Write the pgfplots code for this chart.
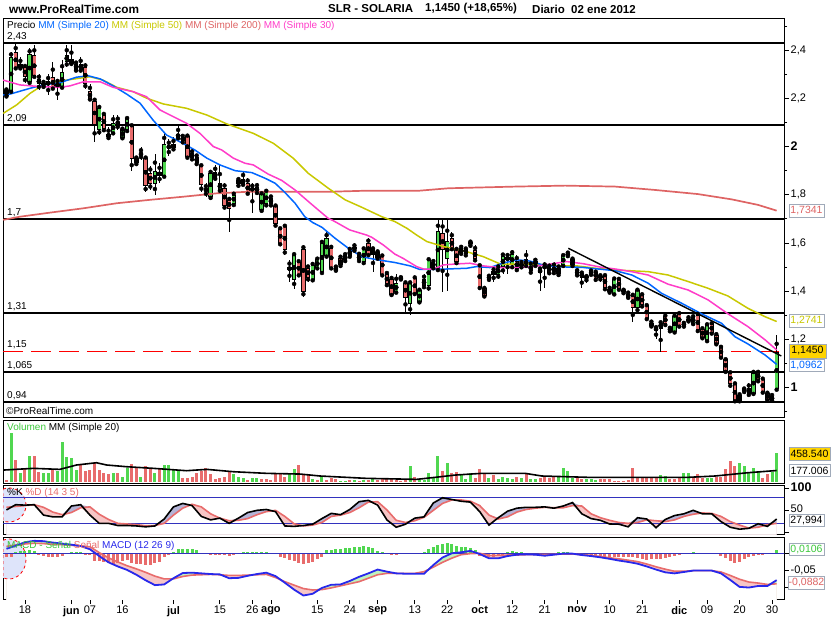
\documentclass[border=0pt]{standalone}
\usepackage{fontspec}
\setmainfont{Liberation Sans}
\usepackage{pgfplots}
\usepackage{pgfplotstable}
\pgfplotsset{compat=1.18}

\definecolor{cgreen}{RGB}{80,215,80}
\definecolor{cred}{RGB}{232,108,108}
\definecolor{mmblue}{RGB}{0,102,255}
\definecolor{mmyel}{RGB}{200,200,0}
\definecolor{mmsal}{RGB}{222,100,100}
\definecolor{mmpink}{RGB}{255,60,200}
\definecolor{stblue}{RGB}{50,50,190}
\definecolor{mablue}{RGB}{40,40,235}
\definecolor{fillpur}{RGB}{180,180,215}
\definecolor{fillpink}{RGB}{247,198,198}
\definecolor{fillgrn}{RGB}{190,242,190}
\definecolor{boxgrey}{RGB}{160,170,185}
\definecolor{gold}{RGB}{255,212,0}
\definecolor{txtgreen}{RGB}{60,200,60}
\definecolor{ellfill}{RGB}{222,228,250}
\definecolor{resred}{RGB}{255,0,0}

\pgfplotstableread{
i o h l c
-4 2.231 2.243 2.202 2.214
-3 2.232 2.394 2.223 2.371
-2 2.391 2.426 2.320 2.329
-1 2.329 2.370 2.320 2.342
0 2.329 2.340 2.263 2.290
1 2.269 2.408 2.260 2.383
2 2.377 2.422 2.285 2.294
3 2.279 2.300 2.235 2.260
4 2.262 2.275 2.240 2.256
5 2.256 2.300 2.213 2.269
6 2.287 2.352 2.235 2.246
7 2.246 2.280 2.193 2.265
8 2.249 2.360 2.240 2.307
9 2.352 2.420 2.330 2.380
10 2.360 2.420 2.340 2.346
11 2.321 2.355 2.310 2.342
12 2.342 2.370 2.310 2.321
13 2.329 2.345 2.240 2.263
14 2.227 2.260 2.190 2.201
15 2.189 2.200 2.020 2.090
16 2.069 2.170 2.050 2.159
17 2.131 2.140 2.060 2.076
18 2.052 2.080 2.030 2.041
19 2.060 2.130 2.050 2.097
20 2.102 2.130 2.070 2.094
21 2.039 2.080 2.030 2.069
22 2.069 2.120 2.060 2.117
23 2.087 2.090 1.897 1.949
24 1.935 1.960 1.920 1.949
25 1.970 2.000 1.945 1.968
26 1.949 1.960 1.810 1.838
27 1.890 1.920 1.820 1.848
28 1.848 1.970 1.800 1.897
29 1.894 1.930 1.850 1.880
30 1.880 2.062 1.870 2.010
31 1.995 2.030 1.960 2.002
32 2.007 2.040 1.980 1.997
33 2.052 2.086 2.030 2.039
34 2.039 2.050 2.010 2.025
35 2.041 2.050 1.950 1.958
36 1.970 1.990 1.940 1.954
37 1.956 1.970 1.920 1.935
38 1.920 1.925 1.810 1.841
39 1.822 1.850 1.790 1.818
40 1.794 1.900 1.780 1.890
41 1.892 1.924 1.860 1.873
42 1.823 1.924 1.810 1.848
43 1.827 1.850 1.740 1.754
44 1.776 1.790 1.647 1.744
45 1.765 1.810 1.750 1.799
46 1.860 1.870 1.830 1.845
47 1.848 1.900 1.835 1.864
48 1.848 1.870 1.800 1.809
49 1.825 1.850 1.725 1.821
50 1.830 1.850 1.800 1.815
51 1.737 1.810 1.730 1.802
52 1.762 1.820 1.750 1.813
53 1.786 1.800 1.750 1.762
54 1.751 1.760 1.665 1.679
55 1.657 1.665 1.590 1.599
56 1.668 1.675 1.550 1.571
57 1.499 1.530 1.440 1.488
58 1.450 1.560 1.410 1.547
59 1.519 1.530 1.460 1.471
60 1.574 1.590 1.377 1.398
61 1.495 1.510 1.440 1.458
62 1.450 1.520 1.440 1.506
63 1.499 1.540 1.490 1.530
64 1.481 1.610 1.470 1.599
65 1.547 1.645 1.540 1.620
66 1.578 1.590 1.490 1.499
67 1.494 1.510 1.480 1.490
68 1.536 1.550 1.500 1.509
69 1.547 1.560 1.520 1.530
70 1.571 1.580 1.540 1.546
71 1.580 1.600 1.560 1.576
72 1.530 1.560 1.520 1.550
73 1.523 1.580 1.510 1.575
74 1.599 1.620 1.545 1.554
75 1.554 1.580 1.480 1.575
76 1.560 1.570 1.530 1.540
77 1.546 1.550 1.460 1.471
78 1.471 1.480 1.420 1.430
79 1.450 1.460 1.380 1.388
80 1.398 1.470 1.390 1.433
81 1.456 1.460 1.445 1.452
82 1.433 1.440 1.315 1.375
83 1.350 1.440 1.300 1.433
84 1.454 1.460 1.385 1.391
85 1.357 1.410 1.350 1.402
86 1.450 1.470 1.410 1.423
87 1.423 1.535 1.400 1.530
88 1.500 1.530 1.490 1.520
89 1.495 1.696 1.480 1.647
90 1.641 1.696 1.398 1.571
91 1.536 1.696 1.400 1.606
92 1.620 1.645 1.570 1.578
93 1.571 1.580 1.510 1.523
94 1.560 1.590 1.550 1.578
95 1.557 1.580 1.540 1.574
96 1.601 1.610 1.580 1.597
97 1.568 1.590 1.520 1.536
98 1.505 1.510 1.410 1.416
99 1.412 1.415 1.375 1.381
100 1.458 1.470 1.440 1.454
101 1.481 1.500 1.440 1.471
102 1.471 1.510 1.450 1.495
103 1.502 1.560 1.470 1.544
104 1.540 1.560 1.470 1.530
105 1.509 1.570 1.490 1.553
106 1.525 1.550 1.480 1.495
107 1.512 1.530 1.490 1.508
108 1.530 1.570 1.500 1.509
109 1.484 1.520 1.470 1.509
110 1.510 1.535 1.500 1.525
111 1.488 1.500 1.400 1.479
112 1.502 1.520 1.413 1.498
113 1.502 1.510 1.470 1.479
114 1.480 1.520 1.470 1.500
115 1.495 1.510 1.460 1.474
116 1.509 1.550 1.500 1.549
117 1.555 1.565 1.540 1.551
118 1.530 1.540 1.500 1.509
119 1.484 1.490 1.460 1.471
120 1.474 1.480 1.413 1.458
121 1.460 1.465 1.435 1.456
122 1.481 1.490 1.465 1.471
123 1.477 1.485 1.440 1.454
124 1.462 1.470 1.440 1.458
125 1.463 1.470 1.400 1.416
126 1.408 1.420 1.390 1.398
127 1.388 1.455 1.385 1.450
128 1.447 1.455 1.400 1.412
129 1.402 1.410 1.385 1.398
130 1.388 1.400 1.370 1.375
131 1.380 1.390 1.270 1.333
132 1.333 1.410 1.310 1.402
133 1.384 1.390 1.330 1.343
134 1.339 1.345 1.280 1.288
135 1.257 1.280 1.250 1.267
136 1.246 1.255 1.200 1.239
137 1.246 1.275 1.149 1.267
138 1.297 1.300 1.255 1.264
139 1.246 1.250 1.230 1.237
140 1.232 1.300 1.225 1.297
141 1.308 1.310 1.250 1.256
142 1.256 1.270 1.250 1.267
143 1.283 1.300 1.270 1.279
144 1.267 1.300 1.260 1.292
145 1.301 1.310 1.230 1.239
146 1.242 1.250 1.200 1.209
147 1.195 1.265 1.190 1.260
148 1.264 1.270 1.220 1.228
149 1.218 1.225 1.175 1.184
150 1.168 1.170 1.120 1.128
151 1.115 1.120 1.060 1.070
152 1.062 1.065 1.000 1.015
153 1.015 1.020 0.940 0.946
154 0.946 0.975 0.940 0.969
155 0.992 1.000 0.975 0.988
156 0.997 1.020 0.965 0.974
157 0.977 1.070 0.970 1.060
158 1.062 1.068 1.020 1.032
159 1.034 1.040 0.975 0.983
160 0.977 0.980 0.942 0.949
161 0.949 0.975 0.942 0.963
162 0.997 1.218 0.985 1.145
}\candles

\pgfplotstableread{
x y
-4.7 2.214
-3.2 2.218
1.1 2.242
3.9 2.256
7.5 2.265
11.1 2.288
13.6 2.294
16.2 2.281
19.0 2.252
21.9 2.218
24.8 2.180
27.6 2.110
30.5 2.048
33.4 2.020
36.6 1.986
39.2 1.952
42.0 1.924
45.3 1.900
48.9 1.892
51.7 1.869
53.9 1.848
56.0 1.810
58.2 1.765
60.3 1.709
62.0 1.685
64.0 1.665
66.8 1.620
69.7 1.578
72.6 1.543
75.4 1.532
79.7 1.519
83.0 1.505
85.1 1.490
89.4 1.491
95.2 1.495
97.3 1.502
100.2 1.498
103.0 1.516
106.0 1.530
108.8 1.525
111.6 1.509
114.6 1.502
117.0 1.500
120.0 1.499
123.5 1.492
127.2 1.485
130.8 1.467
134.3 1.433
137.2 1.391
141.5 1.350
145.8 1.306
150.1 1.267
153.0 1.211
155.8 1.181
159.5 1.135
162.0 1.0962
}\mmA

\pgfplotstableread{
x y
-4.7 2.276
-1.1 2.256
3.2 2.249
7.5 2.246
9.7 2.252
12.6 2.269
16.2 2.269
19.0 2.246
23.3 2.228
26.2 2.207
29.1 2.152
32.0 2.124
34.8 2.097
37.7 2.055
40.6 2.000
42.4 1.986
44.9 1.952
47.4 1.931
49.2 1.924
52.4 1.886
55.3 1.860
58.2 1.820
61.5 1.765
65.3 1.703
66.4 1.693
70.0 1.654
73.6 1.633
74.7 1.624
77.2 1.592
79.7 1.554
81.5 1.536
84.4 1.502
86.0 1.491
88.0 1.491
90.2 1.509
93.0 1.513
95.9 1.516
98.7 1.505
102.3 1.498
106.0 1.498
109.5 1.502
113.1 1.512
116.7 1.523
120.3 1.514
124.0 1.500
127.2 1.492
131.0 1.480
134.3 1.467
138.6 1.429
142.9 1.405
147.2 1.364
151.5 1.306
155.8 1.253
159.5 1.198
162.0 1.156
}\mmB

\pgfplotstableread{
x y
-4.7 2.138
-1.8 2.173
1.1 2.221
3.9 2.256
7.5 2.272
11.1 2.282
14.0 2.290
16.8 2.276
19.8 2.246
23.3 2.228
26.2 2.201
29.8 2.177
34.8 2.159
39.2 2.131
43.5 2.094
49.2 2.055
53.5 2.014
57.8 1.952
61.0 1.890
65.3 1.828
69.0 1.779
72.6 1.748
76.9 1.709
79.7 1.689
82.3 1.661
84.4 1.633
86.6 1.606
90.2 1.585
94.5 1.568
98.8 1.543
102.4 1.513
106.0 1.512
110.3 1.512
114.6 1.505
118.9 1.505
123.0 1.495
127.2 1.488
134.3 1.481
138.6 1.467
142.9 1.440
147.2 1.412
151.5 1.380
155.8 1.329
159.5 1.294
162.0 1.2741
}\mmC

\pgfplotstableread{
x y
-4.7 1.696
-1.1 1.709
5.4 1.726
12.6 1.744
19.8 1.765
26.9 1.779
34.1 1.792
41.3 1.806
48.5 1.813
66.4 1.813
73.6 1.817
85.0 1.817
91.2 1.827
105.6 1.834
116.4 1.838
127.2 1.834
135.8 1.820
145.0 1.803
152.3 1.781
158.0 1.758
162.0 1.7341
}\mmD

\pgfplotstableread{
i v g
-4 26000 0
-3 764000 1
-2 343000 0
-1 142000 1
0 211000 0
1 406000 1
2 406000 0
3 158000 0
4 142000 1
5 142000 1
6 184000 0
7 174000 1
8 632000 1
9 395000 1
10 369000 1
11 184000 1
12 258000 0
13 169000 0
14 184000 0
15 300000 0
16 184000 0
17 132000 0
18 121000 0
19 142000 1
20 132000 0
21 79000 1
22 211000 1
23 279000 0
24 237000 0
25 79000 1
26 248000 0
27 211000 0
28 132000 1
29 200000 0
30 264000 1
31 264000 1
32 184000 1
33 174000 1
34 53000 0
35 63000 0
36 69000 0
37 142000 0
38 174000 0
39 211000 0
40 121000 0
41 42000 0
42 63000 0
43 69000 0
44 174000 0
45 121000 1
46 79000 1
47 53000 1
48 26000 0
49 63000 1
50 63000 1
51 42000 0
52 42000 0
53 26000 0
54 121000 0
55 121000 0
56 79000 0
57 121000 1
58 200000 1
59 264000 0
60 105000 0
61 121000 0
62 42000 1
63 26000 0
64 79000 1
65 26000 0
66 63000 0
67 37000 0
68 11000 1
69 16000 1
70 26000 0
71 26000 1
72 16000 0
73 26000 1
74 26000 0
75 37000 1
76 26000 0
77 53000 0
78 53000 0
79 37000 0
80 26000 0
81 16000 0
82 26000 0
83 248000 1
84 69000 0
85 26000 1
86 26000 1
87 132000 1
88 69000 1
89 406000 1
90 169000 0
91 300000 1
92 142000 0
93 158000 0
94 121000 1
95 42000 1
96 132000 1
97 53000 0
98 200000 0
99 121000 0
100 53000 1
101 105000 0
102 42000 1
103 79000 1
104 53000 1
105 42000 1
106 79000 0
107 53000 1
108 121000 0
109 37000 1
110 42000 1
111 63000 0
112 79000 0
113 63000 0
114 90000 0
115 69000 1
116 211000 1
117 169000 1
118 53000 1
119 53000 0
120 42000 0
121 42000 1
122 42000 1
123 26000 1
124 42000 0
125 42000 0
126 37000 0
127 16000 0
128 16000 0
129 16000 0
130 26000 0
131 211000 0
132 69000 0
133 53000 0
134 63000 0
135 53000 0
136 53000 0
137 105000 1
138 90000 1
139 37000 0
140 42000 0
141 53000 0
142 132000 1
143 132000 1
144 69000 0
145 121000 0
146 63000 0
147 53000 1
148 53000 1
149 69000 0
150 79000 0
151 200000 0
152 327000 0
153 248000 0
154 300000 1
155 248000 1
156 158000 1
157 211000 1
158 158000 1
159 53000 0
160 121000 0
161 158000 1
162 458540 1
}\vol

\pgfplotstableread{
x y
-4.7 184000
1.8 211000
7.5 195000
11.1 264000
15.4 300000
17.6 264000
21.9 237000
27.7 211000
34.8 174000
39.2 195000
44.9 158000
52.1 132000
59.3 121000
63.6 90000
73.6 53000
84.4 37000
88.4 69000
92.7 105000
98.4 132000
107.8 132000
111.4 90000
121.4 69000
130.7 69000
142.9 69000
148.7 90000
155.8 142000
162.0 177006
}\volma

\pgfplotstableread{
i k d m s
-4 51 57 0.013 0.020
-2 63 59 0.022 0.024
0 62 61 0.032 0.027
2 63 63 0.036 0.029
4 39 57 0.035 0.028
6 35 46 0.031 0.026
8 35 40 0.028 0.025
10 60 45 0.025 0.023
12 63 56 0.021 0.021
14 39 58 0.0116 0.019
16 20 41 -0.008 0.002
18 20 29 -0.026 -0.013
20 15 20 -0.038 -0.025
22 15 18.5 -0.048 -0.036
24 14 17 -0.062 -0.045
26 12 14.5 -0.078 -0.055
28 14 15 -0.092 -0.066
30 30 20 -0.090 -0.074
32 58 39 -0.072 -0.074
34 66 55 -0.057 -0.067
36 61 64 -0.056 -0.063
38 36 58 -0.058 -0.062
40 28 42 -0.060 -0.061
42 32 32 -0.061 -0.062
44 20 26 -0.072 -0.064
46 32 27 -0.071 -0.064
48 45 31 -0.065 -0.063
50 50 40 -0.060 -0.062
52 52 47 -0.056 -0.061
54 47 50 -0.066 -0.070
56 14 36 -0.085 -0.082
58 13 19 -0.105 -0.092
60 15 14 -0.122 -0.102
62 18 16 -0.117 -0.106
64 31 22 -0.100 -0.105
66 43 36 -0.091 -0.100
68 40 39 -0.090 -0.094
70 52 45 -0.080 -0.088
72 70 56 -0.068 -0.082
74 73 69 -0.058 -0.072
76 62 70 -0.047 -0.062
78 28 51 -0.053 -0.058
80 11 27 -0.058 -0.058
82 18 22 -0.059 -0.058
84 32 26 -0.059 -0.058
86 35 34 -0.059 -0.053
88 67 50 -0.034 -0.040
90 79 66 -0.012 -0.026
92 75 74 0.000 -0.014
94 71 74 0.003 -0.004
96 69 71 0.007 -0.001
98 47 61 -0.002 0.000
100 16 39 -0.0145 -0.006
102 33 30 -0.0145 -0.006
104 48 35 -0.008 -0.005
106 55 46 -0.004 -0.005
108 57 52 -0.003 -0.004
110 57 55 -0.004 -0.004
112 58 57 -0.007 -0.003
114 55 56 -0.004 -0.003
116 60 56 -0.001 -0.002
118 68 61 -0.001 -0.002
120 42 60 -0.005 -0.004
122 31 42 -0.008 -0.006
124 27 33 -0.0116 -0.009
126 18.5 27 -0.016 -0.013
128 18 22 -0.021 -0.016
130 12 20 -0.025 -0.020
132 33 22 -0.030 -0.024
134 30 28 -0.038 -0.031
136 10 26 -0.047 -0.039
138 29 24 -0.055 -0.046
140 38 28 -0.058 -0.052
142 42 36 -0.054 -0.052
144 50 41 -0.050 -0.050
146 42 44 -0.050 -0.050
148 42 43 -0.050 -0.050
150 24 36 -0.058 -0.054
152 11 24 -0.077 -0.064
154 6.5 16 -0.097 -0.075
156 8.5 9 -0.099 -0.083
158 19 11 -0.0945 -0.086
160 13 17 -0.0945 -0.090
162 30 20 -0.0776 -0.0882
}\osc

\pgfplotstableread{
i v
-4 -0.0116
-3 -0.0096
-2 0.0048
-1 0.0077
0 0.0077
1 0.0096
2 0.0077
3 -0.0048
4 -0.0077
5 -0.0096
6 -0.0096
7 -0.0116
8 -0.0077
9 -0.0019
10 0.0029
11 0.0039
12 0.0039
13 -0.0048
14 -0.0048
15 -0.0212
16 -0.0212
17 -0.0241
18 -0.0289
19 -0.0308
20 -0.0289
21 -0.0222
22 -0.0193
23 -0.0289
24 -0.0308
25 -0.0308
26 -0.0337
27 -0.0337
28 -0.0289
29 -0.0241
30 -0.0096
31 -0.0048
32 0.0048
33 0.0125
34 0.0125
35 0.0125
36 0.0116
37 0.0096
38 -0.0019
39 -0.0019
40 -0.0039
41 -0.0039
42 -0.0039
43 -0.0048
44 -0.0077
45 -0.0048
46 -0.0029
47 0.0029
48 0.0039
49 0.0039
50 0.0039
51 0.0039
52 0.0029
53 0.0019
54 -0.0029
55 -0.0096
56 -0.0145
57 -0.0193
58 -0.0212
59 -0.0270
60 -0.0308
61 -0.0289
62 -0.0241
63 -0.0173
64 -0.0116
65 0.0096
66 0.0096
67 0.0116
68 0.0125
69 0.0145
70 0.0164
71 0.0193
72 0.0193
73 0.0212
74 0.0193
75 0.0145
76 0.0077
77 0.0039
78 -0.0019
79 -0.0048
80 -0.0048
81 -0.0019
82 -0.0029
83 -0.0019
84 -0.0019
85 -0.0019
86 0.0029
87 0.0116
88 0.0193
89 0.0241
90 0.0270
91 0.0289
92 0.0270
93 0.0222
94 0.0193
95 0.0173
96 0.0164
97 0.0096
98 -0.0077
99 -0.0116
100 -0.0116
101 -0.0116
102 -0.0077
103 -0.0048
104 0.0048
105 0.0067
106 0.0039
107 0.0039
108 -0.0048
109 -0.0019
110 -0.0019
111 -0.0019
112 -0.0019
113 -0.0048
114 -0.0019
115 0.0029
116 0.0039
117 0.0039
118 -0.0029
119 -0.0048
120 -0.0077
121 -0.0067
122 -0.0048
123 -0.0048
124 -0.0067
125 -0.0096
126 -0.0096
127 -0.0096
128 -0.0116
129 -0.0116
130 -0.0116
131 -0.0096
132 -0.0145
133 -0.0173
134 -0.0193
135 -0.0173
136 -0.0173
137 -0.0173
138 -0.0145
139 -0.0116
140 -0.0077
141 -0.0048
142 -0.0029
143 -0.0019
144 0.0029
145 -0.0019
146 -0.0019
147 -0.0019
148 -0.0019
149 -0.0029
150 -0.0077
151 -0.0125
152 -0.0212
153 -0.0270
154 -0.0241
155 -0.0173
156 -0.0116
157 -0.0077
158 -0.0048
159 -0.0039
160 -0.0029
161 -0.0019
162 0.0106
}\hist

\tikzset{
  lbl/.style={anchor=south west, inner sep=0pt, font=\fontsize{10}{11}\selectfont, xshift=4pt, yshift=2pt},
  vbox/.style={draw=boxgrey, line width=0.8pt, fill=white, inner sep=0pt,
    minimum width=35pt, minimum height=12.5pt, font=\fontsize{10.5}{12}\selectfont},
}
\pgfplotsset{
  panel/.style={scale only axis, width=781pt, xmin=-4.741, xmax=163.58,
    anchor=north west, axis line style={line width=0.9pt, black},
    xtick=\empty, ytick pos=right, tick align=outside,
    major tick length=5pt, minor tick length=3pt,
    tick style={black, line width=0.8pt},
    yticklabel style={font=\fontsize{11}{12}\selectfont, inner sep=1.5pt},
    scaled y ticks=false},
  lvl/.style={black, line width=1.6pt, forget plot},
  wick/.style={only marks, mark=none, forget plot, error bars/.cd, y dir=both, y explicit,
    error mark=none, error bar style={line width=0.8pt, black, solid}},
  bodyA/.style={only marks, mark=none, forget plot, error bars/.cd, y dir=both, y explicit,
    error mark=none, error bar style={line width=4.3pt, black, solid}},
  bodyB/.style={only marks, mark=none, forget plot, error bars/.cd, y dir=both, y explicit,
    error mark=none, error bar style={line width=2.7pt, #1, solid}},
}

\begin{document}
\begin{tikzpicture}
\useasboundingbox (0,0) rectangle (835pt,-620pt);

% ---------- title ----------
\node[anchor=west, inner sep=0pt, font=\bfseries\fontsize{11.8}{14}\selectfont] at (9pt,-9pt) {www.ProRealTime.com};
\node[anchor=west, inner sep=0pt, font=\bfseries\fontsize{11.5}{14}\selectfont] at (328pt,-9pt) {SLR - SOLARIA};
\node[anchor=west, inner sep=0pt, font=\bfseries\fontsize{11.5}{14}\selectfont] at (425pt,-9pt) {1,1450 (+18,65\%)};
\node[anchor=west, inner sep=0pt, font=\bfseries\fontsize{11.5}{14}\selectfont] at (532pt,-9pt) {Diario\ \ 02 ene 2012};

% ---------- price panel ----------
\begin{axis}[panel, at={(3pt,-18pt)}, height=399pt, ymin=0.8778, ymax=2.5337,
  ytick={1,1.2,1.4,1.6,1.8,2,2.2,2.4},
  yticklabels={\textbf{\fontsize{12.5}{13}\selectfont 1},{1,2},{1,4},{1,6},{1,8},\textbf{\fontsize{12.5}{13}\selectfont 2},{2,2},{2,4}},
  minor ytick={0.9,1.1,1.3,1.5,1.7,1.9,2.1,2.3,2.5}]
\addplot[lvl] coordinates {(-6,2.43) (165,2.43)};
\addplot[lvl] coordinates {(-6,2.09) (165,2.09)};
\addplot[lvl] coordinates {(-6,1.7) (165,1.7)};
\addplot[lvl] coordinates {(-6,1.31) (165,1.31)};
\addplot[lvl] coordinates {(-6,1.065) (165,1.065)};
\addplot[lvl] coordinates {(-6,0.94) (165,0.94)};
% resistance 1.15
\addplot[resred, line width=1.5pt, dash pattern=on 20pt off 8pt, forget plot] coordinates {(-4.741,1.15) (163.58,1.15)};
% candles: upper and lower wicks, black outline, then coloured body
\addplot[wick] table[x=i, y expr={(\thisrow{h}+max(\thisrow{o},\thisrow{c}))/2}, y error expr={(\thisrow{h}-max(\thisrow{o},\thisrow{c}))/2}] {\candles};
\addplot[wick] table[x=i, y expr={(\thisrow{l}+min(\thisrow{o},\thisrow{c}))/2}, y error expr={(min(\thisrow{o},\thisrow{c})-\thisrow{l})/2}] {\candles};
\addplot[bodyA] table[x=i, y expr={(\thisrow{o}+\thisrow{c})/2}, y error expr={abs(\thisrow{c}-\thisrow{o})/2+0.002}] {\candles};
\addplot[bodyB=cgreen] table[x=i, y expr={(\thisrow{o}+\thisrow{c})/2}, y error expr={(\thisrow{c}>\thisrow{o})*max(abs(\thisrow{c}-\thisrow{o})/2-0.0022,0)}] {\candles};
\addplot[bodyB=cred] table[x=i, y expr={(\thisrow{o}+\thisrow{c})/2}, y error expr={(\thisrow{c}<\thisrow{o})*max(abs(\thisrow{c}-\thisrow{o})/2-0.0022,0)}] {\candles};
% moving averages
\addplot[mmsal, line width=1.7pt] table {\mmD};
\addplot[mmyel, line width=1.5pt] table {\mmC};
\addplot[mmblue, line width=1.5pt] table {\mmA};
\addplot[mmpink, line width=1.5pt] table {\mmB};
% trend line
\addplot[black, line width=1.4pt] coordinates {(117.1,1.578) (163,1.131)};
% labels
\node[lbl] at (axis cs:-4.741,2.43) {2,43};
\node[lbl] at (axis cs:-4.741,2.09) {2,09};
\node[lbl] at (axis cs:-4.741,1.7) {1,7};
\node[lbl] at (axis cs:-4.741,1.31) {1,31};
\node[lbl] at (axis cs:-4.741,1.15) {1,15};
\node[lbl] at (axis cs:-4.741,1.065) {1,065};
\node[lbl] at (axis cs:-4.741,0.94) {0,94};
\node[anchor=north west, inner sep=0pt, xshift=4pt, yshift=-3.5pt, font=\fontsize{10}{12}\selectfont] at (rel axis cs:0,1)
  {Precio \textcolor{mmblue}{MM (Simple 20)} \textcolor{mmyel}{MM (Simple 50)} \textcolor{mmsal}{MM (Simple 200)} \textcolor{mmpink}{MM (Simple 30)}};
\node[anchor=south west, inner sep=0pt, xshift=3pt, yshift=2pt, font=\fontsize{10}{12}\selectfont] at (rel axis cs:0,0) {©ProRealTime.com};
\end{axis}

% ---------- volume panel ----------
\begin{axis}[panel, at={(3pt,-420pt)}, height=63pt, ymin=-20500, ymax=975600, ytick=\empty]
\addplot[ycomb, cgreen, line width=3pt, restrict expr to domain={\thisrow{g}}{0.5:1.5}] table[x=i, y=v] {\vol};
\addplot[ycomb, cred, line width=3pt, restrict expr to domain={\thisrow{g}}{-0.5:0.5}] table[x=i, y=v] {\vol};
\addplot[black, line width=1.6pt] table {\volma};
\node[anchor=north west, inner sep=0pt, xshift=4pt, yshift=-3.5pt, font=\fontsize{10}{12}\selectfont] at (rel axis cs:0,1)
  {\textcolor{txtgreen}{Volumen} MM (Simple 20)};
\end{axis}

% ---------- stochastic panel ----------
\begin{axis}[panel, at={(3pt,-485pt)}, height=49pt, ymin=-4.6, ymax=108.5,
  ytick={0,50,100}, yticklabels={,50,\textbf{\fontsize{12.5}{13}\selectfont 100}},
  yticklabel style={yshift=1.5pt}]
\addplot[fill=fillpur, draw=none, forget plot] table[x=i, y expr={max(\thisrow{k},\thisrow{d})}] {\osc} -- (axis cs:162,-6) -- (axis cs:-4,-6) -- cycle;
\addplot[fill=fillpink, draw=none, forget plot] table[x=i, y=d] {\osc} -- (axis cs:162,-6) -- (axis cs:-4,-6) -- cycle;
\addplot[fill=white, draw=none, forget plot] table[x=i, y expr={min(\thisrow{k},\thisrow{d})}] {\osc} -- (axis cs:162,-6) -- (axis cs:-4,-6) -- cycle;
\draw[red, dashed, line width=0.8pt, fill=ellfill] (axis cs:-3.448,62.4) ++(-6pt,15.9pt) arc[start angle=110.7, end angle=-110.7, x radius=17pt, y radius=17pt] -- cycle;
\addplot[stblue, line width=0.8pt] coordinates {(-6,80) (165,80)};
\addplot[stblue, line width=0.8pt] coordinates {(-6,20) (165,20)};
\addplot[cred, line width=1.6pt] table[x=i, y=d] {\osc};
\addplot[black, line width=1.6pt] table[x=i, y=k] {\osc};
\node[anchor=north west, inner sep=0pt, xshift=4pt, yshift=-3pt, font=\fontsize{10}{12}\selectfont] at (rel axis cs:0,1)
  {\%K \textcolor{cred}{\%D (14 3 5)}};
\end{axis}

% ---------- MACD panel ----------
\begin{axis}[panel, at={(3pt,-537pt)}, height=62pt, ymin=-0.1321, ymax=0.0471,
  ytick={-0.1,-0.05,0}, yticklabels={,{-0,05},},
  xtick={0,10,14,21,32,42,49,53,63,70,76,84,91,98,105,112,119,126,133,141,147,154,161},
  xticklabels={18,\textbf{jun},07,16,\textbf{jul},15,26,\textbf{ago},15,24,\textbf{sep},13,22,\textbf{oct},12,21,\textbf{nov},10,21,\textbf{dic},09,20,30},
  xtick pos=bottom, xticklabel style={font=\fontsize{11}{12}\selectfont, inner sep=2pt}]
\addplot[fill=fillgrn, draw=none, forget plot] table[x=i, y expr={max(\thisrow{m},\thisrow{s})}] {\osc} -- (axis cs:162,-0.2) -- (axis cs:-4,-0.2) -- cycle;
\addplot[fill=fillpink, draw=none, forget plot] table[x=i, y=s] {\osc} -- (axis cs:162,-0.2) -- (axis cs:-4,-0.2) -- cycle;
\addplot[fill=white, draw=none, forget plot] table[x=i, y expr={min(\thisrow{m},\thisrow{s})}] {\osc} -- (axis cs:162,-0.2) -- (axis cs:-4,-0.2) -- cycle;
\draw[red, dashed, line width=0.8pt, fill=ellfill] (axis cs:-3.448,-0.0165) ++(-6pt,18.7pt) arc[start angle=110.7, end angle=-110.7, x radius=17pt, y radius=20pt] -- cycle;
\addplot[ycomb, cgreen, line width=3pt, restrict y to domain=0:1] table[x=i, y=v] {\hist};
\addplot[ycomb, cred, line width=3pt, restrict y to domain=-1:0] table[x=i, y=v] {\hist};
\addplot[stblue, line width=0.8pt] coordinates {(-6,0) (165,0)};
\addplot[cred, line width=1.6pt] table[x=i, y=s] {\osc};
\addplot[mablue, line width=1.8pt] table[x=i, y=m] {\osc};
\node[anchor=north west, inner sep=0pt, xshift=4pt, yshift=-4pt, font=\fontsize{10}{12}\selectfont] at (rel axis cs:0,1)
  {\textcolor{txtgreen}{MACD - Señal} \textcolor{cred}{Señal} \textcolor{mablue}{MACD (12 26 9)}};
\end{axis}

% ---------- value boxes ----------
\node[vbox, text=mmsal] at (806.5pt,-211pt) {1,7341};
\node[vbox, text=mmyel] at (806.5pt,-321pt) {1,2741};
\node[vbox, text=mmblue] at (806.5pt,-365.5pt) {1,0962};
\node[vbox, fill=gold, minimum width=37pt, minimum height=14pt] at (807.5pt,-351pt) {1,1450};
\node[vbox, fill=gold, minimum width=41pt] at (809.5pt,-454pt) {458.540};
\node[vbox, minimum width=41pt] at (809.5pt,-470.5pt) {177.006};
\node[vbox] at (806.5pt,-520.5pt) {27,994};
\node[vbox, text=txtgreen] at (806.5pt,-549.5pt) {0,0106};
\node[vbox, text=mmsal] at (806.5pt,-583pt) {-0,0882};
\end{tikzpicture}
\end{document}
